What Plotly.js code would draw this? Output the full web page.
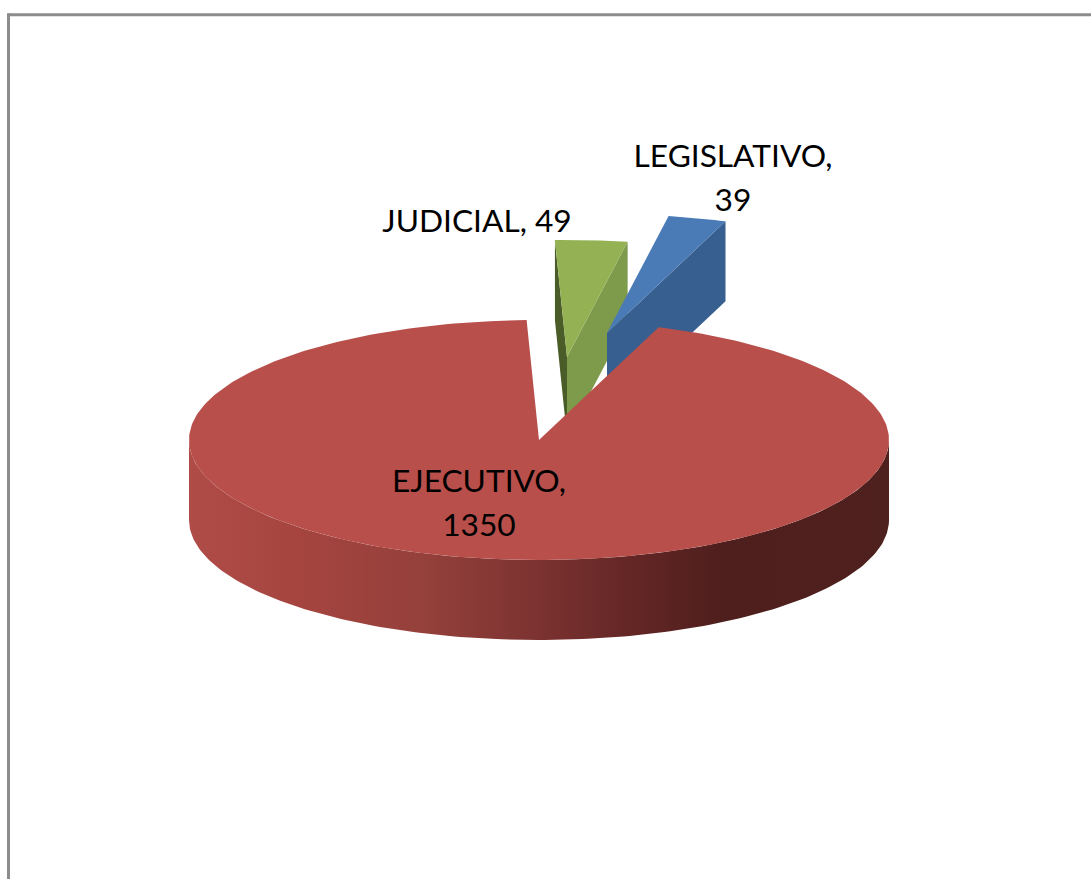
<!DOCTYPE html>
<html>
<head>
<meta charset="utf-8">
<script src="https://cdn.plot.ly/plotly-3.0.1.min.js"></script>
<style>html,body{margin:0;padding:0;background:#fff}#chart{width:1091px;height:879px}</style>
</head>
<body>
<div id="chart"></div>
<script>
// Data
const categories = ["EJECUTIVO", "JUDICIAL", "LEGISLATIVO"];
const values = [1350, 49, 39];

// Pie styling
const firstSliceAngle = 20;           // degrees clockwise from 12 o'clock
const center = [539, 440];
const radii = [350, 120];
const depth = 80;
const sliceScale = [1, 0.975, 0.99];
const explodeX = [0, 28, 68];
const explodeY = [0, -83, -107];
const topColors = ["#b84f4b", "#94b254", "#4a7bb7"];
const cutColors = [null, "#7e9a4b", "#375f8f"];
const innerCutColor = "#4a5d29";
const wallScale = [
  [0, "#b04c48"], [0.16, "#a5443f"], [0.34, "#94403b"], [0.5, "#7b3230"],
  [0.65, "#602524"], [0.76, "#4f1f1d"], [1, "#4e201e"]
];
// Label placement: first line and, when the label wraps, second line
const labelX = [479, 477, 733];
const labelLine1Y = [484, 224, 159];
const labelLine2Y = [528, null, 203];

const total = values.reduce((a, b) => a + b, 0);
let cursor = firstSliceAngle;
const slices = values.map((v, i) => {
  const start = cursor;
  const sweep = v / total * 360;
  cursor += sweep;
  return {start, end: start + sweep, r: sliceScale[i],
          cx: center[0] + explodeX[i], cy: center[1] + explodeY[i]};
});

function arcPoint(s, deg, drop) {
  const t = deg * Math.PI / 180;
  return [s.cx + radii[0] * s.r * Math.sin(t), s.cy - radii[1] * s.r * Math.cos(t) + (drop || 0)];
}
function arc(s, a, b, drop) {
  const n = Math.max(2, Math.ceil(Math.abs(b - a)));
  const pts = [];
  for (let k = 0; k <= n; k++) pts.push(arcPoint(s, a + (b - a) * k / n, drop));
  return pts;
}
function poly(pts, color, name, extra) {
  return Object.assign({
    type: "scatter", mode: "lines", name: name,
    x: pts.map(p => p[0]).concat([pts[0][0]]),
    y: pts.map(p => p[1]).concat([pts[0][1]]),
    fill: "toself", fillcolor: color,
    line: {width: 0, color: color}, hoverinfo: "skip", showlegend: false
  }, extra || {});
}
function topFace(s, color, name) {
  return poly([[s.cx, s.cy]].concat(arc(s, s.start, s.end)), color, name);
}
function cutFace(s, deg, color, name) {
  const o = arcPoint(s, deg);
  return poly([o, [o[0], o[1] + depth], [s.cx, s.cy + depth], [s.cx, s.cy]], color, name);
}

// Label lines: the value wraps to its own line where the reference wraps it
const textX = [], textY = [], textStr = [];
categories.forEach((c, i) => {
  if (labelLine2Y[i] === null) {
    textX.push(labelX[i]); textY.push(labelLine1Y[i]); textStr.push(c + ", " + values[i]);
  } else {
    textX.push(labelX[i], labelX[i]);
    textY.push(labelLine1Y[i], labelLine2Y[i]);
    textStr.push(c + ",", String(values[i]));
  }
});

const red = slices[0], green = slices[1], blue = slices[2];
const traces = [
  cutFace(green, green.start, innerCutColor, categories[1] + " cut left"),
  cutFace(green, green.end, cutColors[1], categories[1] + " cut right"),
  topFace(green, topColors[1], categories[1]),
  cutFace(blue, blue.end, cutColors[2], categories[2] + " cut"),
  topFace(blue, topColors[2], categories[2]),
  poly(arc(red, 90, 270).concat(arc(red, 270, 90, depth)), wallScale[0][1], categories[0] + " wall",
       {fillgradient: {type: "horizontal", colorscale: wallScale}}),
  topFace(red, topColors[0], categories[0]),
  {
    type: "scatter", mode: "text", x: textX, y: textY, text: textStr,
    textposition: "middle center",
    textfont: {family: "Lato, 'Open Sans', sans-serif", size: 31.7, color: "#000000"},
    hoverinfo: "skip", showlegend: false
  }
];

const frameColor = "#8c8c8c";
const layout = {
  width: 1091, height: 879,
  margin: {l: 0, r: 0, t: 0, b: 0},
  paper_bgcolor: "#ffffff", plot_bgcolor: "#ffffff",
  showlegend: false,
  xaxis: {range: [0, 1091], visible: false, fixedrange: true},
  yaxis: {range: [879, 0], visible: false, fixedrange: true},
  shapes: [
    {type: "line", xref: "paper", yref: "paper", x0: 8.5 / 1091, x1: 1, y0: 1 - 14.7 / 879, y1: 1 - 14.7 / 879,
     line: {color: frameColor, width: 3}},
    {type: "line", xref: "paper", yref: "paper", x0: 8.5 / 1091, x1: 8.5 / 1091, y0: 0, y1: 1 - 13.2 / 879,
     line: {color: frameColor, width: 3}}
  ]
};
Plotly.newPlot("chart", traces, layout, {displayModeBar: false, staticPlot: true});
</script>
</body>
</html>
